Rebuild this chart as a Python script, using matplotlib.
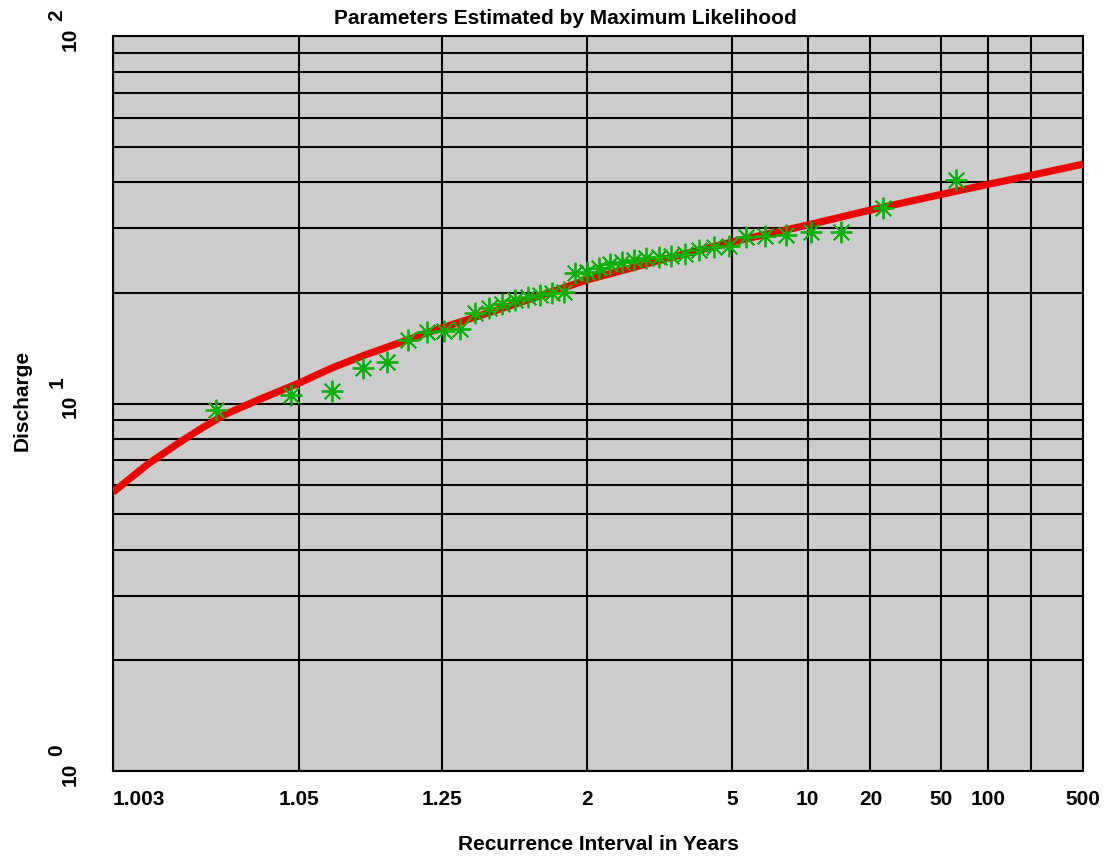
import numpy as np
import matplotlib
matplotlib.use("Agg")
import matplotlib.pyplot as plt
from matplotlib import transforms
from matplotlib.ticker import FixedLocator, NullFormatter, FixedFormatter, NullLocator
from statistics import NormalDist

# Ranked annual peak discharges and their recurrence intervals (years)
obs_interval = [1.016, 1.045, 1.075, 1.107, 1.141, 1.177, 1.216, 1.257, 1.301,
                1.348, 1.399, 1.453, 1.512, 1.576, 1.646, 1.722, 1.806, 1.898,
                2.0, 2.114, 2.241, 2.385, 2.548, 2.735, 2.952, 3.207, 3.509,
                3.875, 4.326, 4.895, 5.636, 6.643, 8.087, 10.33, 14.31, 23.25, 62.0]
obs_discharge = [9.60, 10.55, 10.82, 12.50, 12.97, 14.89, 15.65, 15.75, 15.95,
                 17.63, 18.19, 18.65, 19.12, 19.49, 19.74, 19.98, 20.11, 22.65,
                 22.80, 23.37, 23.97, 24.27, 24.58, 24.89, 25.04, 25.20, 25.51,
                 26.16, 26.66, 26.83, 28.39, 28.57, 28.74, 29.29, 29.35, 34.04, 40.57]

# Fitted frequency curve (maximum-likelihood parameters)
fit_interval = [1.003, 1.0055, 1.009, 1.0125, 1.018, 1.029, 1.05, 1.075, 1.11, 1.16,
                1.22, 1.25, 1.5, 2, 3, 5, 10, 20, 50, 100, 200, 500]
fit_discharge = [5.74, 6.85, 7.80, 8.50, 9.31, 10.22, 11.37, 12.50, 13.55, 14.61,
                 15.65, 16.05, 18.54, 21.68, 24.58, 27.51, 30.60, 33.61, 37.04,
                 39.47, 41.76, 44.79]

x_ticks = [1.003, 1.05, 1.25, 2, 5, 10, 20, 50, 100, 200, 500]
x_tick_labels = ["1.003", "1.05", "1.25", "2", "5", "10", "20", "50", "100", "", "500"]
y_decades = [1, 10, 100]
y_exponents = ["0", "1", "2"]

_nd = NormalDist()


def interval_to_z(t):
    t = np.asarray(t, dtype=float)
    with np.errstate(divide="ignore", invalid="ignore"):
        p = 1.0 - 1.0 / t
    p = np.where(np.isfinite(p), p, 1e-12)
    p = np.clip(p, 1e-12, 1 - 1e-12)
    out = np.array([_nd.inv_cdf(v) for v in p.ravel()]).reshape(p.shape)
    return out


def z_to_interval(z):
    z = np.asarray(z, dtype=float)
    z = np.where(np.isfinite(z), z, 0.0)
    f = np.array([_nd.cdf(v) for v in z.ravel()]).reshape(z.shape)
    f = np.clip(f, 0.0, 1 - 1e-12)
    return 1.0 / (1.0 - f)


font = "Liberation Sans"
fs = 15

fig = plt.figure(figsize=(11.14, 8.61), dpi=100)
ax = fig.add_axes([113 / 1114, 1 - 771 / 861, 970 / 1114, 735 / 861])
ax.set_facecolor("#cccccc")

ax.set_xscale("function", functions=(interval_to_z, z_to_interval))
ax.set_yscale("log")
ax.set_xlim(1.003, 500)
ax.set_ylim(1, 100)

# grid
ax.xaxis.set_major_locator(FixedLocator(x_ticks))
ax.xaxis.set_major_formatter(FixedFormatter(x_tick_labels))
ax.xaxis.set_minor_locator(NullLocator())
ax.yaxis.set_major_locator(FixedLocator(y_decades))
ax.yaxis.set_minor_locator(FixedLocator([m * d for d in (1, 10) for m in range(2, 10)]))
ax.yaxis.set_major_formatter(NullFormatter())
ax.yaxis.set_minor_formatter(NullFormatter())
ax.grid(True, which="both", color="black", linewidth=1.5)
ax.set_axisbelow(True)
ax.tick_params(axis="both", which="both", length=0)
ax.tick_params(axis="x", pad=14)
for lab in ax.get_xticklabels():
    lab.set_fontfamily(font)
    lab.set_fontweight("bold")
    lab.set_fontsize(fs)
ax.get_xticklabels()[0].set_horizontalalignment("left")

for s in ax.spines.values():
    s.set_linewidth(1.5)
    s.set_color("black")

# fitted curve and observations
ax.plot(fit_interval, fit_discharge, color="#ee0000", linewidth=5.2,
        solid_capstyle="butt", solid_joinstyle="round", zorder=3)
ax.plot(obs_interval, obs_discharge, linestyle="none", marker=(8, 2, 0),
        markersize=15.5, markeredgewidth=1.3, color="#00b000", zorder=4)

# decade labels on the discharge axis
ytrans = ax.get_yaxis_transform()
for d, e in zip(y_decades, y_exponents):
    base_tr = ytrans + transforms.ScaledTranslation(0, -3 / 100, fig.dpi_scale_trans)
    exp_tr = ytrans + transforms.ScaledTranslation(0, 21 / 100, fig.dpi_scale_trans)
    ax.text((70.5 - 113) / 970, d, "10", transform=base_tr, rotation=90,
            ha="center", va="center", fontsize=fs, fontweight="bold",
            family=font, clip_on=False)
    ax.text((57 - 113) / 970, d, e, transform=exp_tr, rotation=90,
            ha="center", va="center", fontsize=fs, fontweight="bold",
            family=font, clip_on=False)

fig.text(22 / 1114, 1 - 400 / 861, "Discharge", rotation=90, ha="center",
         va="center", fontsize=fs, fontweight="bold", family=font)
fig.text(598 / 1114, 1 - 845 / 861, "Recurrence Interval in Years", ha="center",
         va="center", fontsize=fs, fontweight="bold", family=font)
fig.text(565 / 1114, 1 - 19 / 861, "Parameters Estimated by Maximum Likelihood",
         ha="center", va="center", fontsize=fs, fontweight="bold", family=font)

fig.savefig("out.png", dpi=100, facecolor="white")
